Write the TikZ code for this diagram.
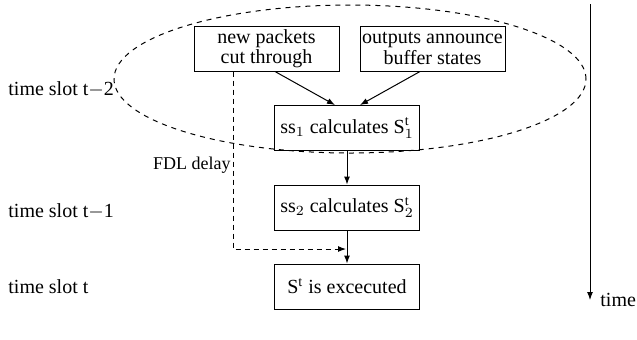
\documentclass[tikz,border=0pt]{standalone}
\usepackage{fontspec}
\setmainfont{Liberation Serif}
\usetikzlibrary{arrows.meta}

\begin{document}
\begin{tikzpicture}[x=0.5pt, y=-0.5pt,
    block/.style={draw, line width=0.5pt, minimum width=72.5pt, minimum height=22.5pt,
        inner sep=1pt, align=center, font=\fontsize{10}{8.5}\selectfont},
    flow/.style={-{Latex[length=4pt, width=3pt]}, line width=0.5pt},
    fdl/.style={flow, dash pattern=on 2.5pt off 2pt},
    slotlabel/.style={anchor=west, inner sep=0pt, font=\fontsize{10}{12}\selectfont}]

        % Fix the page to the size of the reference
        \useasboundingbox (0,0) rectangle (637,339);

        % Time slot t-2 is enclosed by a dashed ellipse
        \draw[dash pattern=on 2.5pt off 2.5pt, line width=0.5pt] (350,79) ellipse [x radius=118pt, y radius=37pt];

        % Blocks of the schedule
        \node[block] (newpkt) at (266.5,48.5) {new packets\\cut through};
        \node[block] (outbuf) at (432.5,48.5) {outputs announce\\buffer states};
        \node[block] (ssone) at (347,128) {ss$_1$ calculates S$^{\mathrm{t}}_1$};
        \node[block] (sstwo) at (347,207.5) {ss$_2$ calculates S$^{\mathrm{t}}_2$};
        \node[block] (exec) at (347,286.5) {S$^{\mathrm{t}}$ is excecuted};

        % Loop to place the time slot labels on the left
        \foreach \y/\txt [count=\i] in {89/t$-$2, 211/t$-$1, 287/t} {
            \node[slotlabel] (slot\i) at (8,\y) {time slot \txt};
        }

        % Arrows between the blocks
        \draw[flow] ([xshift=4.25pt]newpkt.south) -- ([xshift=-6pt]ssone.north);
        \draw[flow] ([xshift=-6.25pt]outbuf.south) -- ([xshift=6.5pt]ssone.north);
        \draw[flow] (ssone) -- (sstwo);
        \draw[flow] (sstwo) -- (exec);

        % Dashed fibre delay line path
        \coordinate (fdlcorner) at (233,249);
        \draw[fdl] (newpkt.south -| fdlcorner) -- (fdlcorner) -- ([xshift=-0.5pt]fdlcorner -| exec.north);
        \node[anchor=east, inner sep=0pt, font=\fontsize{9}{10}\selectfont] (fdllabel) at (231,165) {FDL delay};

        % Time axis on the right
        \coordinate (tstart) at (590,4);
        \coordinate (tend) at (590,300);
        \draw[flow] (tstart) -- (tend);
        \node[anchor=west, inner sep=0pt, font=\fontsize{10}{12}\selectfont] (timelabel) at ([xshift=5pt]tend) {time};

    \end{tikzpicture}
\end{document}
